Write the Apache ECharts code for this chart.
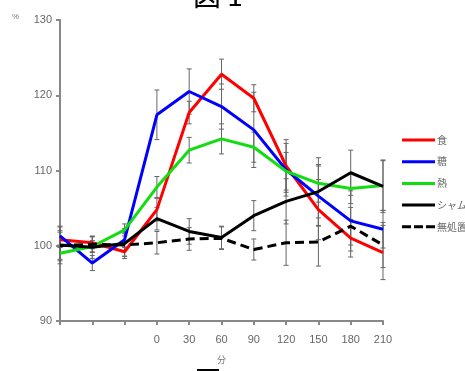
<!DOCTYPE html>
<html><head><meta charset="utf-8">
<script src="https://cdn.jsdelivr.net/npm/echarts@6/dist/echarts.min.js"></script>
<style>html,body{margin:0;padding:0;background:#fff}#c{width:465px;height:371px}</style>
</head><body><div id="c"></div>
<script>
const categories = ['', '', '', '0', '30', '60', '90', '120', '150', '180', '210'];
const yTicks = [90, 100, 110, 120, 130];
const seriesNames = ['食', '糖', '熱', 'シャム', '無処置'];
const redVals   = [100.8, 100.4, 99.2, 104.8, 117.7, 122.8, 119.6, 110.6, 104.8, 101.0, 99.1];
const blueVals  = [101.3, 97.7, 100.8, 117.4, 120.5, 118.5, 115.4, 110.1, 106.6, 103.3, 102.2];
const greenVals = [99.0, 99.9, 102.1, 107.8, 112.7, 114.2, 113.1, 109.9, 108.3, 107.6, 108.0];
const shamVals  = [100.1, 99.8, 100.3, 103.6, 101.9, 101.1, 104.0, 105.9, 107.2, 109.7, 107.9];
const noneVals  = [100.0, 100.2, 100.1, 100.4, 100.9, 101.0, 99.5, 100.4, 100.5, 102.6, 100.1];
const redErr   = [1.0, 0.8, 0.6, 1.5, 1.5, 2.0, 1.8, 3.5, 4.0, 2.5, 3.6];
const blueErr  = [1.2, 1.0, 1.0, 3.3, 3.0, 3.0, 5.0, 3.5, 4.0, 4.0, 2.5];
const greenErr = [0.8, 0.8, 0.8, 1.4, 1.7, 2.0, 2.0, 2.5, 2.5, 2.0, 3.3];
const shamErr  = [2.5, 1.5, 2.0, 1.5, 1.7, 1.5, 2.0, 3.0, 4.5, 3.0, 3.5];
const noneErr  = [2.0, 1.0, 1.5, 1.5, 1.5, 1.5, 1.4, 3.0, 3.2, 2.5, 3.0];

const vals = [redVals, blueVals, greenVals, shamVals, noneVals];
const errs = [redErr, blueErr, greenErr, shamErr, noneErr];
const colors = ['#ff0000', '#0000ff', '#11dd11', '#000000', '#000000'];
const types = ['solid', 'solid', 'solid', 'solid', [9, 5]];
const solidIcon = 'path://M0,0h33v3h-33z';
const dashIcon = 'path://M0,0h9v3h-9zM12,0h9v3h-9zM24,0h9v3h-9z';

const chart = echarts.init(document.getElementById('c'), null, {renderer: 'canvas'});

const errSeries = vals.map((v, s) => ({
  type: 'custom',
  z: 1,
  silent: true,
  data: v.map((y, i) => [i, y - errs[s][i], y + errs[s][i]]),
  renderItem: function (params, api) {
    const lo = api.coord([api.value(0), api.value(1)]);
    const hi = api.coord([api.value(0), api.value(2)]);
    const w = 2.5;
    const st = {stroke: '#666', lineWidth: 1};
    return {type: 'group', children: [
      {type: 'line', shape: {x1: lo[0], y1: lo[1], x2: hi[0], y2: hi[1]}, style: st},
      {type: 'line', shape: {x1: lo[0] - w, y1: lo[1], x2: lo[0] + w, y2: lo[1]}, style: st},
      {type: 'line', shape: {x1: hi[0] - w, y1: hi[1], x2: hi[0] + w, y2: hi[1]}, style: st}
    ]};
  }
}));

const lineSeries = vals.map((v, s) => ({
  name: seriesNames[s],
  type: 'line',
  z: 3,
  data: v,
  symbol: 'none',
  color: colors[s],
  lineStyle: {width: 3, color: colors[s], type: types[s]},
  itemStyle: {color: colors[s]}
}));

chart.setOption({
  animation: false,
  backgroundColor: '#fff',
  grid: {left: 60, right: 82, top: 20, bottom: 50, containLabel: false},
  legend: {
    orient: 'vertical', left: 397, top: 130, itemGap: 11.7,
    itemWidth: 33, itemHeight: 12,
    data: seriesNames.map((n, i) => ({name: n, icon: i === 4 ? dashIcon : solidIcon})),
    textStyle: {fontSize: 10, color: '#666', fontFamily: 'Noto Sans CJK JP', padding: [0, 0, 0, -3]}
  },
  xAxis: {
    type: 'category', data: categories, boundaryGap: false,
    axisLine: {lineStyle: {color: '#888', width: 2}},
    axisTick: {show: true, length: 4, lineStyle: {color: '#888', width: 2}, interval: 0},
    axisLabel: {color: '#666', fontSize: 11, fontFamily: 'Liberation Sans', margin: 13, interval: 0},
    name: '分', nameLocation: 'middle', nameGap: 34,
    nameTextStyle: {color: '#777', fontSize: 9, fontFamily: 'Noto Sans CJK JP'}
  },
  yAxis: {
    type: 'value', min: yTicks[0], max: yTicks[yTicks.length - 1], interval: 10,
    axisLine: {show: true, lineStyle: {color: '#888', width: 2}},
    axisTick: {show: true, length: 4, lineStyle: {color: '#888', width: 2}},
    axisLabel: {color: '#666', fontSize: 11, fontFamily: 'Liberation Sans', margin: 8},
    splitLine: {show: false}
  },
  graphic: [
    {type: 'text', left: 193, top: -19, style: {text: '図 1', font: '28px "Noto Sans CJK JP"', fill: '#000'}},
    {type: 'text', left: 12, top: 13, style: {text: '%', font: '8px "Liberation Sans"', fill: '#777'}},
    {type: 'line', shape: {x1: 197, y1: 370, x2: 219, y2: 370}, style: {stroke: '#000', lineWidth: 2}}
  ],
  series: errSeries.concat(lineSeries)
});
</script></body></html>
